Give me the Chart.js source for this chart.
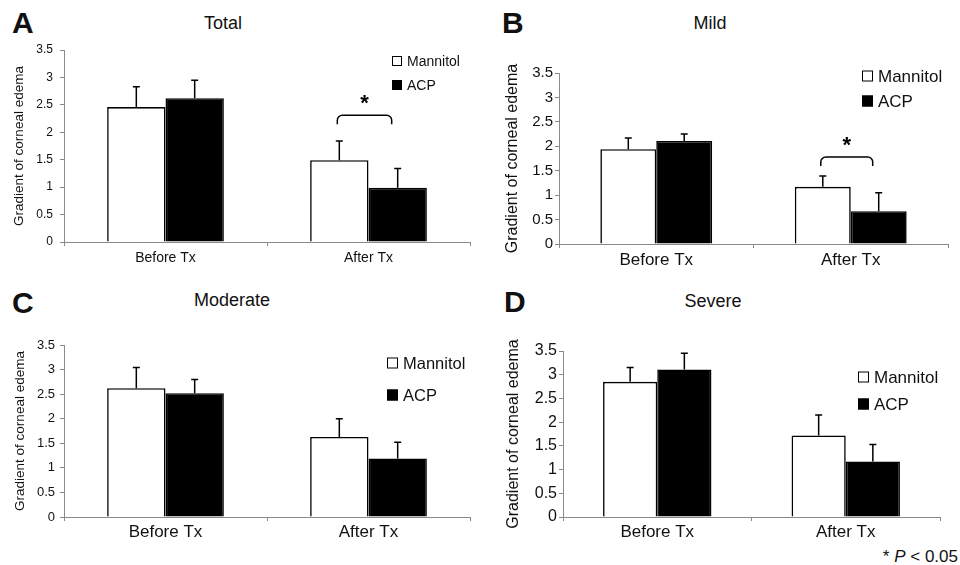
<!DOCTYPE html>
<html>
<head>
<meta charset="utf-8">
<script src="https://cdn.jsdelivr.net/npm/chart.js@4.4.1/dist/chart.umd.min.js"></script>
<style>
  html, body { margin: 0; padding: 0; background: #fff; }
  body { width: 960px; height: 565px; position: relative; overflow: hidden; font-family: "Liberation Sans", Arial, sans-serif; color: #111; }
  canvas { position: absolute; }
  .letter { position: absolute; font-weight: bold; font-size: 30px; line-height: 30px; }
  .title { position: absolute; font-size: 18px; line-height: 18px; transform: translateX(-50%); white-space: nowrap; }
  .note { position: absolute; right: 2px; top: 548px; font-size: 17px; line-height: 17px; }
</style>
</head>
<body>
<div class="letter" style="left:12px;top:8px">A</div>
<div class="title" style="left:223px;top:14px">Total</div>
<div class="letter" style="left:502px;top:8px">B</div>
<div class="title" style="left:710px;top:14px">Mild</div>
<div class="letter" style="left:12px;top:288px">C</div>
<div class="title" style="left:232px;top:291px">Moderate</div>
<div class="letter" style="left:504px;top:287px">D</div>
<div class="title" style="left:713px;top:292px">Severe</div>
<div class="note">* <i>P</i> &lt; 0.05</div>

<canvas id="chartA" width="480" height="280" style="left:0;top:0"></canvas>
<canvas id="chartB" width="480" height="280" style="left:480px;top:0"></canvas>
<canvas id="chartC" width="480" height="285" style="left:0;top:280px"></canvas>
<canvas id="chartD" width="480" height="285" style="left:480px;top:280px"></canvas>

<script>
// 데이터
const categories = ["Before Tx", "After Tx"];
const seriesNames = ["Mannitol", "ACP"];
const yTicks = [0, 0.5, 1, 1.5, 2, 2.5, 3, 3.5];
const yTitle = "Gradient of corneal edema";

// Total
const totalMannitol = [2.46, 1.49];
const totalMannitolSd = [0.37, 0.35];
const totalAcp = [2.62, 0.99];
const totalAcpSd = [0.33, 0.35];

// Mild
const mildMannitol = [1.94, 1.17];
const mildMannitolSd = [0.23, 0.22];
const mildAcp = [2.11, 0.67];
const mildAcpSd = [0.14, 0.38];

// Moderate
const moderateMannitol = [2.62, 1.63];
const moderateMannitolSd = [0.42, 0.37];
const moderateAcp = [2.52, 1.19];
const moderateAcpSd = [0.28, 0.33];

// Severe
const severeMannitol = [2.85, 1.72];
const severeMannitolSd = [0.30, 0.43];
const severeAcp = [3.11, 1.17];
const severeAcpSd = [0.34, 0.36];

// 유의성 표시 (After Tx 비교), null 이면 없음
const sigLevels = { A: 2.31, B: 1.78, C: null, D: null };

const FONT = "'Liberation Sans', Arial, sans-serif";
const AXIS_COLOR = "#8a8a8a";

// 오차 막대
const errorBarPlugin = {
  id: "errorBars",
  afterDatasetsDraw(chart) {
    const { ctx } = chart;
    const yScale = chart.scales.y;
    ctx.save();
    ctx.strokeStyle = "#000";
    ctx.lineWidth = 1.5;
    chart.data.datasets.forEach((ds, i) => {
      const meta = chart.getDatasetMeta(i);
      meta.data.forEach((bar, j) => {
        const top = yScale.getPixelForValue(ds.data[j] + ds.sd[j]);
        ctx.beginPath();
        ctx.moveTo(bar.x, bar.y);
        ctx.lineTo(bar.x, top);
        ctx.moveTo(bar.x - 3.5, top);
        ctx.lineTo(bar.x + 3.5, top);
        ctx.stroke();
      });
    });
    ctx.restore();
  },
};

// 범례 + 유의성 괄호
const annotPlugin = {
  id: "annot",
  afterDraw(chart, args, opts) {
    const { ctx } = chart;
    ctx.save();
    // 범례
    ctx.font = `${opts.legendFont}px ${FONT}`;
    ctx.textBaseline = "middle";
    chart.data.datasets.forEach((ds, i) => {
      const cy = opts.legendY + i * opts.legendGap;
      const s = opts.box;
      ctx.fillStyle = ds.backgroundColor;
      ctx.fillRect(opts.legendX, cy - s / 2, s, s);
      ctx.strokeStyle = "#000";
      ctx.lineWidth = 1;
      ctx.strokeRect(opts.legendX + 0.5, cy - s / 2 + 0.5, s - 1, s - 1);
      ctx.fillStyle = "#111";
      ctx.fillText(ds.label, opts.legendX + s + 5, cy + 1);
    });

    // 괄호
    if (opts.sig != null) {
      const y = chart.scales.y.getPixelForValue(opts.sig);
      const x1 = chart.getDatasetMeta(0).data[1].x - 2;
      const x2 = chart.getDatasetMeta(1).data[1].x - 6;
      const leg = 9, r = 5;
      ctx.strokeStyle = "#000";
      ctx.lineWidth = 1.5;
      ctx.beginPath();
      ctx.moveTo(x1, y + leg);
      ctx.arcTo(x1, y, x1 + r, y, r);
      ctx.arcTo(x2, y, x2, y + r, r);
      ctx.lineTo(x2, y + leg);
      ctx.stroke();
      ctx.fillStyle = "#000";
      ctx.font = `bold 22px ${FONT}`;
      ctx.textAlign = "center";
      ctx.textBaseline = "middle";
      ctx.fillText("*", (x1 + x2) / 2, y - 11);
    }
    ctx.restore();
  },
};

function makePanel(canvasId, mannitol, mannitolSd, acp, acpSd, sig, s) {
  const ctx = document.getElementById(canvasId).getContext("2d");
  return new Chart(ctx, {
    type: "bar",
    data: {
      labels: categories,
      datasets: [
        { label: seriesNames[0], data: mannitol, sd: mannitolSd, backgroundColor: "#ffffff", borderColor: "#000", borderWidth: 1.6 },
        { label: seriesNames[1], data: acp, sd: acpSd, backgroundColor: "#000000", borderColor: "#000", borderWidth: 1.6 },
      ],
    },
    options: {
      responsive: false,
      animation: false,
      devicePixelRatio: 1,
      categoryPercentage: 0.575,
      barPercentage: 1,
      layout: { padding: { top: s.top, right: s.right, left: 0, bottom: 0 } },
      plugins: {
        legend: { display: false },
        tooltip: { enabled: false },
        annot: {
          legendX: s.legendX, legendY: s.legendY, legendGap: s.legendGap,
          box: s.box, legendFont: s.legendFont, sig,
        },
      },
      scales: {
        x: {
          afterFit(scale) { scale.height = s.xHeight; },
          grid: { drawOnChartArea: false, tickLength: 4, color: AXIS_COLOR, offset: true },
          border: { color: AXIS_COLOR, width: 1 },
          ticks: { color: "#111", padding: s.xPad, font: { family: FONT, size: s.xFont } },
        },
        y: {
          min: yTicks[0],
          max: yTicks[yTicks.length - 1],
          afterFit(scale) { scale.width = s.yWidth; },
          afterBuildTicks(scale) { scale.ticks = yTicks.map((v) => ({ value: v })); },
          grid: { drawOnChartArea: false, tickLength: 4, color: AXIS_COLOR },
          border: { color: AXIS_COLOR, width: 1 },
          ticks: {
            color: "#111", padding: s.yPad, font: { family: FONT, size: s.tickFont },
            callback: (v) => String(v),
          },
          title: {
            display: true, text: yTitle, color: "#111",
            font: { family: FONT, size: s.titleFont },
            padding: { top: s.titlePad, bottom: 0 },
          },
        },
      },
    },
    plugins: [errorBarPlugin, annotPlugin],
  });
}

makePanel("chartA", totalMannitol, totalMannitolSd, totalAcp, totalAcpSd, sigLevels.A, {
  top: 50, right: 10, yWidth: 64, xHeight: 38, xPad: 4, yPad: 7,
  tickFont: 12, xFont: 14, titleFont: 13.5, titlePad: 11,
  legendX: 392, legendY: 61, legendGap: 24, box: 10, legendFont: 14,
});
makePanel("chartB", mildMannitol, mildMannitolSd, mildAcp, mildAcpSd, sigLevels.B, {
  top: 73, right: 12, yWidth: 79, xHeight: 36, xPad: 2, yPad: 2,
  tickFont: 15, xFont: 17, titleFont: 16, titlePad: 23,
  legendX: 382, legendY: 76, legendGap: 25, box: 11, legendFont: 17,
});
makePanel("chartC", moderateMannitol, moderateMannitolSd, moderateAcp, moderateAcpSd, sigLevels.C, {
  top: 65, right: 10, yWidth: 64, xHeight: 48, xPad: 1, yPad: 5,
  tickFont: 13, xFont: 17, titleFont: 13.5, titlePad: 12,
  legendX: 387, legendY: 83, legendGap: 32, box: 11, legendFont: 16.5,
});
makePanel("chartD", severeMannitol, severeMannitolSd, severeAcp, severeAcpSd, sigLevels.D, {
  top: 71, right: 20, yWidth: 83, xHeight: 48, xPad: 1, yPad: 2,
  tickFont: 16, xFont: 17, titleFont: 16, titlePad: 24,
  legendX: 378, legendY: 97, legendGap: 27, box: 11, legendFont: 17,
});
</script>
</body>
</html>
